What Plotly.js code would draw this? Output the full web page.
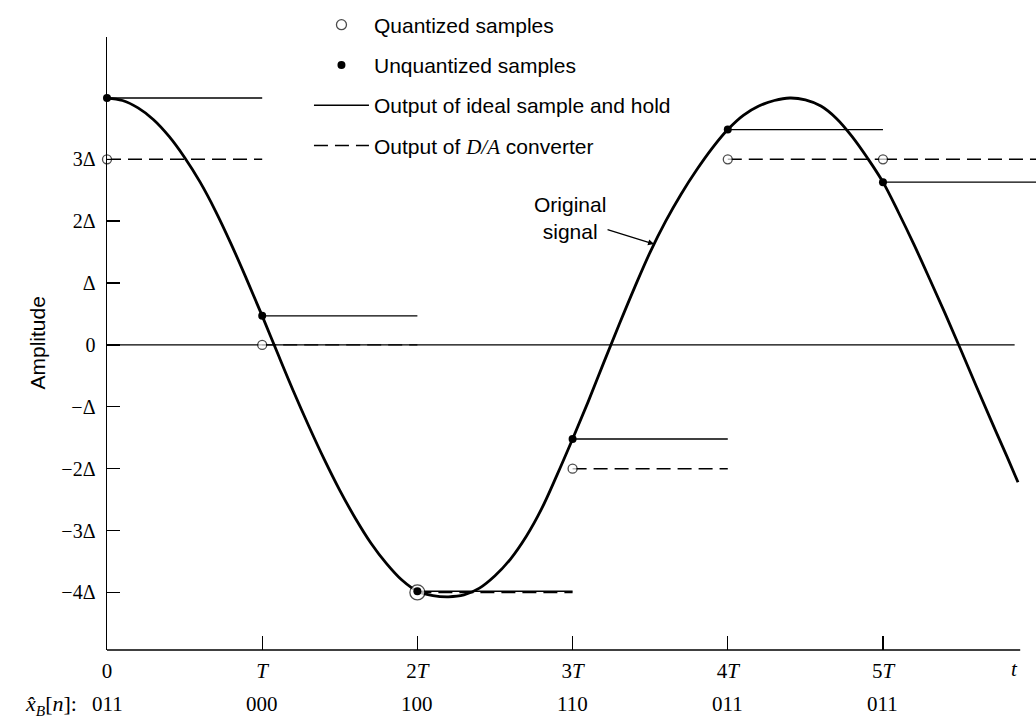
<!DOCTYPE html>
<html>
<head>
<meta charset="utf-8">
<script src="https://cdn.plot.ly/plotly-3.0.1.min.js"></script>
<style>
html, body { margin: 0; padding: 0; background: #fff; }
#chart { width: 1036px; height: 719px; }
</style>
</head>
<body>
<div id="chart"></div>
<script>
// ---- data (time in units of T, amplitude in units of Δ) ----
const sampleTimes = [0, 1, 2, 3, 4, 5];
const sampleTickText = ['0', '<i>T</i>', '2<i>T</i>', '3<i>T</i>', '4<i>T</i>', '5<i>T</i>'];
const unquantizedSamples = [3.99, 0.47, -3.98, -1.52, 3.48, 2.63];
const quantizedSamples = [3, 0, -4, -2, 3, 3];
const binaryCodes = ['011', '000', '100', '110', '011', '011'];

const signalT = [0, 0.1, 0.2, 0.3, 0.4, 0.5, 0.6, 0.7, 0.8, 0.9, 1.0, 1.1, 1.2, 1.3, 1.4, 1.5, 1.6, 1.7, 1.8, 1.9,
  2.0, 2.1, 2.2, 2.3, 2.4, 2.5, 2.6, 2.7, 2.8, 2.9, 3.0, 3.1, 3.2, 3.3, 3.4, 3.5, 3.6, 3.7, 3.8, 3.9,
  4.0, 4.1, 4.2, 4.3, 4.4, 4.5, 4.6, 4.7, 4.8, 4.9, 5.0, 5.1, 5.2, 5.3, 5.4, 5.5, 5.6, 5.7, 5.8, 5.87];
const signalV = [3.99, 3.95, 3.83, 3.64, 3.37, 3.03, 2.63, 2.16, 1.63, 1.06, 0.47, -0.14, -0.74, -1.31, -1.85, -2.35, -2.80, -3.20, -3.53, -3.80,
  -3.98, -4.05, -4.07, -4.04, -3.93, -3.73, -3.46, -3.10, -2.65, -2.10, -1.52, -0.92, -0.29, 0.33, 0.93, 1.50, 2.00, 2.44, 2.83, 3.18,
  3.48, 3.71, 3.86, 3.95, 3.99, 3.96, 3.86, 3.66, 3.37, 3.02, 2.63, 2.14, 1.62, 1.07, 0.51, -0.07, -0.66, -1.24, -1.81, -2.22];

const amplitudeTickVals = [-4, -3, -2, -1, 0, 1, 2, 3];
const amplitudeTickText = ['\u22124\u0394', '\u22123\u0394', '\u22122\u0394', '\u2212\u0394', '0', '\u0394', '2\u0394', '3\u0394'];

// ---- layout constants ----
const X_RANGE = [0, 5.986];
const Y_RANGE = [-4.93, 4.976];
const serif = 'Liberation Serif, Times New Roman, serif';
const sans = 'Liberation Sans, Arial, Helvetica, sans-serif';

// hold segments built from the samples
function holdSegments(values) {
  const xs = [], ys = [];
  values.forEach((v, i) => {
    const t0 = sampleTimes[i];
    const t1 = i + 1 < sampleTimes.length ? sampleTimes[i + 1] : X_RANGE[1];
    xs.push(t0, t1, null);
    ys.push(v, v, null);
  });
  return { xs, ys };
}
const sh = holdSegments(unquantizedSamples);
const da = holdSegments(quantizedSamples);

const traces = [
  { x: signalT, y: signalV, mode: 'lines', line: { color: '#000', width: 2.8, shape: 'spline', smoothing: 1 },
    showlegend: false, hoverinfo: 'skip' },
  { x: sh.xs, y: sh.ys, mode: 'lines', name: 'Output of ideal sample and hold',
    line: { color: '#000', width: 1.4 }, legendgroup: 'g3', legendrank: 3 },
  { x: da.xs, y: da.ys, mode: 'lines', name: 'Output of <span style="font-family:Liberation Serif"><i>D/A</i></span> converter',
    line: { color: '#000', width: 1.4, dash: '14px,7px' }, legendgroup: 'g4', legendrank: 4 },
  { x: sampleTimes, y: quantizedSamples, mode: 'markers', name: 'Quantized samples',
    marker: { symbol: 'circle', color: '#fff', size: [9, 9, 15, 9, 9, 9], line: { color: '#000', width: 1.3 } },
    legendgroup: 'g1', legendrank: 1, cliponaxis: false },
  { x: sampleTimes, y: unquantizedSamples, mode: 'markers', name: 'Unquantized samples',
    marker: { symbol: 'circle', color: '#000', size: 8 },
    legendgroup: 'g2', legendrank: 2, cliponaxis: false }
];

const annotations = [
  { x: 3.525, y: 1.63, xref: 'x', yref: 'y', text: 'Original<br>signal', showarrow: true,
    ax: -84, ay: -26, arrowhead: 2, arrowsize: 1, arrowwidth: 1.2, arrowcolor: '#000',
    font: { family: sans, size: 21, color: '#000' }, align: 'center' },
  { xref: 'paper', yref: 'paper', x: 0, y: 0.5, xshift: -70, textangle: -90, showarrow: false,
    text: 'Amplitude', font: { family: sans, size: 21, color: '#000' }, xanchor: 'center', yanchor: 'middle' },
  { xref: 'paper', yref: 'paper', x: 0.977, y: 0, yshift: -19, showarrow: false, text: '<i>t</i>',
    font: { family: serif, size: 21, color: '#000' }, xanchor: 'center', yanchor: 'middle' },
  { xref: 'paper', yref: 'paper', x: 0, y: 0, xshift: -28, yshift: -55, showarrow: false,
    text: '<i>x\u0302</i><sub><i>B</i></sub>[<i>n</i>]:', font: { family: serif, size: 22, color: '#000' },
    xanchor: 'right', yanchor: 'middle' }
];
binaryCodes.forEach((c, i) => {
  annotations.push({ xref: 'x', yref: 'paper', x: sampleTimes[i], y: 0, yshift: -54, showarrow: false,
    text: c, font: { family: serif, size: 21, color: '#000' }, xanchor: 'center', yanchor: 'middle' });
});

const layout = {
  width: 1036, height: 719,
  margin: { l: 107, r: 0, t: 37, b: 69 },
  paper_bgcolor: '#fff', plot_bgcolor: '#fff',
  showlegend: true,
  legend: { x: 0.2174, xanchor: 'left', y: 1.053, yanchor: 'top', bgcolor: 'rgba(0,0,0,0)',
    font: { family: sans, size: 21, color: '#000' }, tracegroupgap: 10, traceorder: 'grouped', itemwidth: 55 },
  xaxis: { range: X_RANGE, showgrid: false, zeroline: false, showline: false,
    tickmode: 'array', tickvals: sampleTimes, ticktext: sampleTickText,
    ticks: 'inside', ticklen: 14, tickwidth: 1.4, tickcolor: '#000', ticklabelstandoff: 6,
    tickfont: { family: serif, size: 21, color: '#000' } },
  yaxis: { range: Y_RANGE, showgrid: false, zeroline: false, showline: true, linecolor: '#000', linewidth: 1.5,
    tickmode: 'array', tickvals: amplitudeTickVals, ticktext: amplitudeTickText,
    ticks: 'inside', ticklen: 13, tickwidth: 1.4, tickcolor: '#000', ticklabelstandoff: 6,
    tickfont: { family: serif, size: 20, color: '#000' } },
  shapes: [
    { type: 'line', xref: 'paper', yref: 'paper', x0: 0, x1: 0.983, y0: 0, y1: 0, line: { color: '#000', width: 1.5 } },
    { type: 'line', xref: 'paper', yref: 'y', x0: 0, x1: 0.977, y0: 0, y1: 0, line: { color: '#000', width: 1.3 }, layer: 'below' }
  ],
  annotations: annotations
};

Plotly.newPlot('chart', traces, layout, { displayModeBar: false, staticPlot: true });
</script>
</body>
</html>
